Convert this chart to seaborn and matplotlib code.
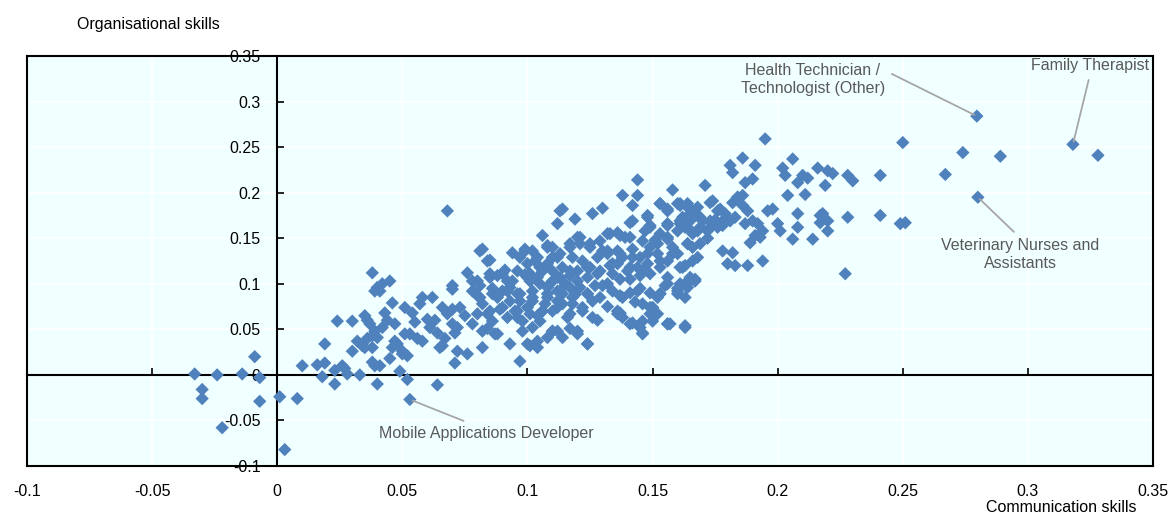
import matplotlib
matplotlib.use("Agg")
import matplotlib.pyplot as plt
import seaborn as sns
import pandas as pd
from matplotlib.ticker import MultipleLocator, FuncFormatter

# Occupation-level skill scores: communication (x) vs organisational (y)
comm_skills = [
    -0.033, -0.030, -0.030, -0.024, -0.022, -0.014, -0.009, -0.007, -0.007, 0.001, 0.003, 0.008,
    0.010, 0.016, 0.019, 0.018, 0.019,
    0.023, 0.023, 0.024, 0.026, 0.027, 0.028, 0.030, 0.030, 0.032, 0.033, 0.034, 0.035, 0.036,
    0.037, 0.038, 0.038, 0.038, 0.038, 0.039, 0.039, 0.036, 0.035, 0.039,
    0.040, 0.040, 0.040, 0.041, 0.041, 0.042, 0.043, 0.045, 0.045, 0.046, 0.047, 0.047, 0.048,
    0.049, 0.050, 0.052, 0.052, 0.053, 0.051, 0.054, 0.057, 0.058, 0.051, 0.053, 0.050, 0.044,
    0.042, 0.046, 0.055, 0.056,
    0.060, 0.061, 0.058, 0.066, 0.068, 0.070, 0.073, 0.064, 0.065, 0.070, 0.071, 0.072, 0.078,
    0.072, 0.076, 0.071, 0.064, 0.068, 0.070, 0.070, 0.076, 0.078, 0.080, 0.078, 0.066, 0.062,
    0.067, 0.075, 0.063,
    0.081, 0.082, 0.085, 0.081, 0.082, 0.085, 0.088, 0.082, 0.084, 0.086, 0.084, 0.087, 0.090,
    0.093, 0.092, 0.094, 0.096, 0.093, 0.097, 0.095, 0.092, 0.096, 0.098, 0.094, 0.099, 0.097,
    0.093, 0.097, 0.088, 0.089, 0.091, 0.086, 0.099,
    0.100, 0.102, 0.102, 0.101, 0.100, 0.104, 0.105, 0.108, 0.108, 0.110, 0.110, 0.108, 0.100,
    0.104, 0.101, 0.108, 0.105, 0.102, 0.110, 0.100, 0.103, 0.105, 0.102, 0.106, 0.108, 0.112,
    0.113, 0.114, 0.119, 0.112, 0.110, 0.114, 0.118, 0.117, 0.117, 0.113, 0.109, 0.112, 0.114,
    0.117, 0.118, 0.114, 0.112, 0.110, 0.116, 0.112, 0.117, 0.106, 0.104, 0.107, 0.115, 0.119,
    0.126, 0.130, 0.120, 0.121, 0.125, 0.129, 0.122, 0.120, 0.125, 0.124, 0.128, 0.121, 0.124,
    0.126, 0.122, 0.124, 0.120, 0.132, 0.136, 0.139, 0.138, 0.132, 0.136, 0.138, 0.136, 0.134,
    0.137, 0.130, 0.134, 0.137, 0.136, 0.137, 0.136, 0.138, 0.128, 0.132, 0.127, 0.133,
    0.144, 0.144, 0.142, 0.141, 0.148, 0.149, 0.147, 0.153, 0.156, 0.156, 0.153, 0.156, 0.158,
    0.142, 0.145, 0.149, 0.152, 0.148, 0.144, 0.140, 0.141, 0.145, 0.149, 0.153, 0.156, 0.141,
    0.145, 0.149, 0.152, 0.155, 0.141, 0.145, 0.146, 0.149, 0.152, 0.146, 0.156, 0.157, 0.156,
    0.153, 0.150, 0.149, 0.143, 0.158, 0.151,
    0.160, 0.161, 0.164, 0.160, 0.162, 0.160, 0.163, 0.163, 0.164, 0.167, 0.161, 0.160, 0.161,
    0.164, 0.166, 0.162, 0.165, 0.168, 0.170, 0.173, 0.169, 0.166, 0.163, 0.171, 0.174, 0.177,
    0.179, 0.178, 0.178, 0.180, 0.161, 0.164, 0.166, 0.168, 0.163, 0.165, 0.164, 0.167, 0.172,
    0.175,
    0.181, 0.182, 0.186, 0.191, 0.187, 0.190, 0.184, 0.186, 0.182, 0.186, 0.181, 0.183, 0.184,
    0.188, 0.187, 0.190, 0.192, 0.194, 0.196, 0.198, 0.195, 0.189, 0.191, 0.193, 0.182, 0.183,
    0.188, 0.194,
    0.200, 0.201, 0.202, 0.203, 0.206, 0.208, 0.210, 0.212, 0.216, 0.220, 0.222, 0.228, 0.230,
    0.219, 0.204, 0.211, 0.206, 0.208, 0.208, 0.214, 0.217, 0.220, 0.220, 0.228, 0.227, 0.2796,
    0.318, 0.328, 0.289, 0.274, 0.250, 0.267, 0.280, 0.241, 0.241, 0.249, 0.251, 0.218, 0.217,
    # dense core of the cloud
    0.084, 0.099, 0.104, 0.108, 0.110, 0.113, 0.117, 0.121, 0.125, 0.128, 0.130,
    0.080, 0.085, 0.090, 0.096, 0.101, 0.106, 0.112, 0.117, 0.120, 0.124, 0.129,
    0.081, 0.086, 0.092, 0.097, 0.102, 0.108, 0.113, 0.118, 0.124, 0.129,
    0.080, 0.085, 0.090, 0.096, 0.101, 0.106, 0.112, 0.117, 0.122, 0.126,
    0.082, 0.088, 0.098, 0.104, 0.110, 0.114, 0.120, 0.124,
    0.153, 0.156, 0.160, 0.164, 0.168, 0.173, 0.176, 0.178, 0.173, 0.169, 0.165, 0.161, 0.164,
    0.168, 0.172, 0.176,
    0.148, 0.149, 0.142, 0.156, 0.133, 0.137, 0.141, 0.146, 0.152, 0.156,
    0.132, 0.137, 0.142, 0.148, 0.153, 0.158, 0.164, 0.169, 0.166, 0.161, 0.146, 0.141, 0.134,
    0.137, 0.142, 0.146, 0.150, 0.156, 0.163,
    0.132, 0.138, 0.144, 0.146, 0.150, 0.153, 0.156, 0.160, 0.165,
]
org_skills = [
    0.001, -0.016, -0.026, 0.000, -0.058, 0.001, 0.020, -0.003, -0.029, -0.024, -0.082, -0.026,
    0.010, 0.011, 0.013, -0.002, 0.034,
    0.005, -0.010, 0.059, 0.010, 0.007, 0.001, 0.026, 0.059, 0.037, 0.000, 0.032, 0.065, 0.060,
    0.056, 0.112, 0.030, 0.043, 0.014, 0.092, 0.048, 0.040, 0.030, 0.010,
    0.096, -0.010, 0.041, 0.010, 0.092, 0.100, 0.068, 0.103, 0.018, 0.079, 0.056, 0.037, 0.034,
    0.004, 0.026, 0.021, -0.005, -0.027, 0.074, 0.068, 0.078, 0.085, 0.045, 0.045, 0.023, 0.060,
    0.052, 0.030, 0.058, 0.040,
    0.061, 0.052, 0.037, 0.074, 0.067, 0.072, 0.074, 0.046, 0.030, 0.056, 0.046, 0.052, 0.056,
    0.026, 0.023, 0.013, -0.011, 0.180, 0.098, 0.094, 0.112, 0.092, 0.087, 0.103, 0.032, 0.085,
    0.040, 0.065, 0.060,
    0.136, 0.138, 0.126, 0.098, 0.030, 0.111, 0.109, 0.078, 0.067, 0.059, 0.051, 0.045, 0.092,
    0.096, 0.103, 0.103, 0.089, 0.081, 0.081, 0.070, 0.063, 0.063, 0.059, 0.134, 0.138, 0.129,
    0.034, 0.015, 0.085, 0.072, 0.115, 0.095, 0.110,
    0.074, 0.081, 0.092, 0.103, 0.107, 0.107, 0.100, 0.096, 0.085, 0.103, 0.114, 0.122, 0.034,
    0.030, 0.032, 0.041, 0.059, 0.052, 0.048, 0.122, 0.125, 0.118, 0.136, 0.153, 0.142, 0.166,
    0.180, 0.182, 0.171, 0.129, 0.140, 0.118, 0.129, 0.140, 0.109, 0.107, 0.100, 0.092, 0.089,
    0.096, 0.078, 0.078, 0.081, 0.070, 0.063, 0.048, 0.051, 0.070, 0.065, 0.078, 0.100, 0.088,
    0.177, 0.183, 0.151, 0.144, 0.144, 0.147, 0.125, 0.114, 0.118, 0.107, 0.111, 0.096, 0.089,
    0.081, 0.074, 0.034, 0.045, 0.155, 0.156, 0.151, 0.197, 0.133, 0.136, 0.129, 0.122, 0.111,
    0.105, 0.098, 0.092, 0.087, 0.070, 0.067, 0.067, 0.063, 0.060, 0.075, 0.098, 0.120,
    0.214, 0.197, 0.186, 0.167, 0.175, 0.164, 0.158, 0.188, 0.182, 0.164, 0.155, 0.149, 0.203,
    0.138, 0.129, 0.140, 0.133, 0.122, 0.118, 0.114, 0.105, 0.109, 0.111, 0.118, 0.125, 0.090,
    0.095, 0.090, 0.085, 0.098, 0.056, 0.052, 0.059, 0.074, 0.067, 0.045, 0.056, 0.056, 0.107,
    0.089, 0.074, 0.067, 0.080, 0.140, 0.148,
    0.158, 0.186, 0.171, 0.133, 0.118, 0.095, 0.085, 0.052, 0.103, 0.105, 0.100, 0.089, 0.188,
    0.184, 0.180, 0.173, 0.169, 0.175, 0.169, 0.162, 0.162, 0.155, 0.162, 0.208, 0.191, 0.182,
    0.177, 0.164, 0.136, 0.122, 0.166, 0.144, 0.140, 0.129, 0.120, 0.107, 0.096, 0.103, 0.150,
    0.170,
    0.230, 0.222, 0.238, 0.230, 0.211, 0.215, 0.195, 0.197, 0.189, 0.186, 0.169, 0.173, 0.195,
    0.180, 0.166, 0.169, 0.166, 0.158, 0.180, 0.182, 0.259, 0.145, 0.153, 0.151, 0.134, 0.120,
    0.120, 0.125,
    0.166, 0.158, 0.227, 0.219, 0.237, 0.211, 0.219, 0.216, 0.227, 0.224, 0.221, 0.219, 0.213,
    0.208, 0.197, 0.198, 0.149, 0.162, 0.177, 0.149, 0.175, 0.169, 0.158, 0.173, 0.111, 0.284,
    0.253, 0.241, 0.240, 0.244, 0.255, 0.220, 0.195, 0.219, 0.175, 0.166, 0.167, 0.177, 0.167,
    # dense core of the cloud
    0.125, 0.136, 0.129, 0.140, 0.129, 0.133, 0.144, 0.151, 0.140, 0.129, 0.136,
    0.103, 0.107, 0.111, 0.114, 0.111, 0.114, 0.107, 0.114, 0.103, 0.118, 0.114,
    0.085, 0.089, 0.092, 0.089, 0.085, 0.089, 0.092, 0.085, 0.089, 0.085,
    0.067, 0.070, 0.074, 0.070, 0.067, 0.070, 0.074, 0.067, 0.070, 0.063,
    0.048, 0.045, 0.048, 0.037, 0.048, 0.041, 0.048, 0.034,
    0.188, 0.180, 0.188, 0.188, 0.184, 0.189, 0.180, 0.169, 0.169, 0.173, 0.177, 0.169, 0.162,
    0.158, 0.158, 0.162,
    0.173, 0.162, 0.169, 0.166, 0.155, 0.153, 0.151, 0.147, 0.144, 0.151,
    0.136, 0.133, 0.129, 0.133, 0.125, 0.133, 0.144, 0.144, 0.125, 0.118, 0.114, 0.118, 0.122,
    0.068, 0.057, 0.046, 0.059, 0.056, 0.054,
    0.100, 0.085, 0.092, 0.078, 0.074, 0.089, 0.100, 0.092, 0.103,
]

# Labelled occupations: name, point, label centre, where the leader line leaves the label
callout_names = ["Health Technician /\nTechnologist (Other)", "Family Therapist",
                 "Veterinary Nurses and\nAssistants", "Mobile Applications Developer"]
callout_x = [0.2796, 0.318, 0.280, 0.053]
callout_y = [0.284, 0.253, 0.195, -0.027]
label_x = [0.214, 0.325, 0.297, 0.0836]
label_y = [0.324, 0.340, 0.132, -0.064]
leader_rel = [(1.0, 0.78), (0.5, 0.0), (0.5, 1.0), (0.45, 1.0)]

sns.set_theme(style="white")
plt.rcParams["font.family"] = ["Liberation Sans Narrow", "Liberation Sans", "DejaVu Sans"]
plt.rcParams["axes.unicode_minus"] = False

fig = plt.figure(figsize=(11.71, 5.15), dpi=100)
W, H = 1171, 515
ax = fig.add_axes([27 / W, 1 - 466 / H, (1153 - 27) / W, (466 - 56) / H])
ax.set_facecolor("#F0FFFF")

df = pd.DataFrame({"comm": comm_skills, "org": org_skills})
sns.scatterplot(data=df, x="comm", y="org", marker="D", s=46, color="#4F81BD",
                edgecolor="none", linewidth=0, ax=ax, zorder=3)

ax.set_xlim(-0.1, 0.35)
ax.set_ylim(-0.1, 0.35)
ax.xaxis.set_major_locator(MultipleLocator(0.05))
ax.yaxis.set_major_locator(MultipleLocator(0.05))
ax.grid(True, color="white", linewidth=1.2)
ax.set_axisbelow(True)

fmt = FuncFormatter(lambda v, p: f"{round(v, 3) + 0.0:g}")
ax.xaxis.set_major_formatter(fmt)
ax.tick_params(axis="x", length=0, pad=13, labelsize=11.5, labelcolor="black")
ax.tick_params(axis="y", left=False, labelleft=False)
for sp in ax.spines.values():
    sp.set_visible(True)
    sp.set_color("black")
    sp.set_linewidth(1.5)

# Zero axes crossing inside the plot area (above the grid, below the markers)
secx = ax.secondary_xaxis(0, transform=ax.transData)
secx.set_zorder(1)
secx.xaxis.set_major_locator(MultipleLocator(0.05))
secx.tick_params(direction="in", length=5, width=1.2, color="black",
                 labelbottom=False, labeltop=False)
for sp in secx.spines.values():
    sp.set_color("black")
    sp.set_linewidth(1.5)

secy = ax.secondary_yaxis(0, transform=ax.transData)
secy.set_zorder(1)
secy.yaxis.set_major_locator(MultipleLocator(0.05))
secy.yaxis.set_major_formatter(fmt)
secy.tick_params(direction="in", length=5, width=1.2, color="black",
                 pad=12, labelsize=11.5, labelcolor="black")
for sp in secy.spines.values():
    sp.set_color("black")
    sp.set_linewidth(1.5)

ax.set_xlabel("Communication skills", fontsize=11.5, color="black", ha="right", va="center")
ax.xaxis.set_label_coords((1137 - 27) / 1126, (466 - 508) / 410)
ax.set_ylabel("Organisational skills", fontsize=11.5, color="black", rotation=0,
              ha="left", va="center")
ax.yaxis.set_label_coords((77 - 27) / 1126, (466 - 25) / 410)

for name, px, py, tx, ty, rel in zip(callout_names, callout_x, callout_y,
                                     label_x, label_y, leader_rel):
    ax.annotate(name, xy=(px, py), xytext=(tx, ty), ha="center", va="center",
                fontsize=11.5, color="#595959", linespacing=1.25,
                arrowprops=dict(arrowstyle="-", color="#A6A6A6", lw=1.3, relpos=rel,
                                shrinkA=3, shrinkB=2), zorder=4)

fig.savefig("out.png", dpi=100)
